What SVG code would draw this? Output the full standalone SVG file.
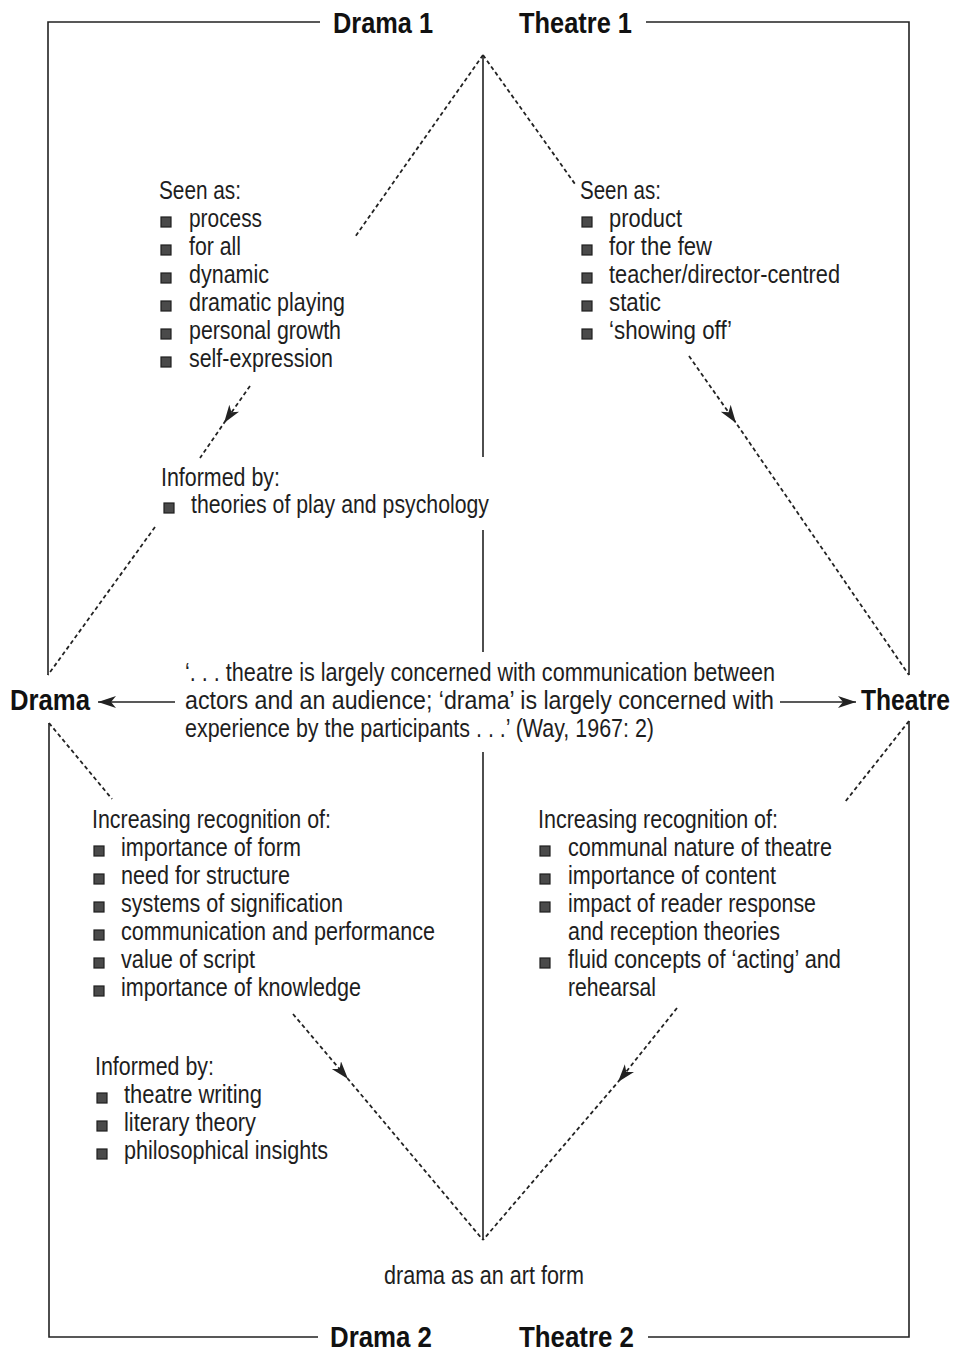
<svg xmlns="http://www.w3.org/2000/svg" width="956" height="1353" viewBox="0 0 956 1353">
<defs>
<marker id="ah" markerUnits="userSpaceOnUse" markerWidth="20" markerHeight="14" refX="18" refY="6" orient="auto" viewBox="0 0 20 14">
<path d="M0,0 L18,6 L0,12 L5,6 Z" fill="#222"/>
</marker>
<style>
.t{font-family:"Liberation Sans",Arial,sans-serif;font-size:25px;fill:#1e1e1e}
.b{font-family:"Liberation Sans",Arial,sans-serif;font-size:29px;font-weight:bold;fill:#111}
.sq{fill:#4a4a4a;stroke:#1e1e1e;stroke-width:1.2}
.fr{stroke:#222;stroke-width:1.6;fill:none}
.ds{stroke:#222;stroke-width:1.8;fill:none;stroke-dasharray:4 3}
.ar{stroke:#222;stroke-width:1.5;fill:none}
</style>
</defs>
<rect width="956" height="1353" fill="#fff"/>

<g id="connectors">
<path class="fr" d="M320,22 H48 V675"/>
<path class="fr" d="M646,22 H909 V675"/>
<path class="fr" d="M49,723 V1337 H318"/>
<path class="fr" d="M909,721 V1337 H648"/>
<path class="fr" d="M483,55 V457 M483,530 V652 M483,752 V1240"/>
<path class="ds" d="M483,55 L355,237"/>
<path class="ds" d="M483,55 L575,184"/>
<path class="ds" d="M250,386 L224,423 L200,458" marker-mid="url(#ah)"/>
<path class="ds" d="M155,527 L48,675"/>
<path class="ds" d="M689,356 L736,423 L909,675" marker-mid="url(#ah)"/>
<path class="ds" d="M49,723 L112,799"/>
<path class="ds" d="M909,721 L845,802"/>
<path class="ds" d="M293,1014 L348,1079 L483,1240" marker-mid="url(#ah)"/>
<path class="ds" d="M677,1008 L618,1082 L483,1240" marker-mid="url(#ah)"/>
<path class="ar" d="M175,702 L98,702" marker-end="url(#ah)"/>
<path class="ar" d="M780,702 L856,702" marker-end="url(#ah)"/>
</g>

<g id="drama1"><text class="b" x="333" y="33" textLength="100" lengthAdjust="spacingAndGlyphs">Drama 1</text></g>
<g id="theatre1"><text class="b" x="519" y="33" textLength="113" lengthAdjust="spacingAndGlyphs">Theatre 1</text></g>
<g id="drama"><text class="b" x="10" y="710" textLength="80" lengthAdjust="spacingAndGlyphs">Drama</text></g>
<g id="theatre"><text class="b" x="861" y="710" textLength="89" lengthAdjust="spacingAndGlyphs">Theatre</text></g>
<g id="drama2"><text class="b" x="330" y="1347" textLength="102" lengthAdjust="spacingAndGlyphs">Drama 2</text></g>
<g id="theatre2"><text class="b" x="519" y="1347" textLength="115" lengthAdjust="spacingAndGlyphs">Theatre 2</text></g>

<g id="drama1-seen">
<text class="t" x="159" y="199" textLength="82" lengthAdjust="spacingAndGlyphs">Seen as:</text>
<rect class="sq" x="161" y="217" width="10" height="10"/><text class="t" x="189" y="227" textLength="73" lengthAdjust="spacingAndGlyphs">process</text>
<rect class="sq" x="161" y="245" width="10" height="10"/><text class="t" x="189" y="255" textLength="52" lengthAdjust="spacingAndGlyphs">for all</text>
<rect class="sq" x="161" y="273" width="10" height="10"/><text class="t" x="189" y="283" textLength="80" lengthAdjust="spacingAndGlyphs">dynamic</text>
<rect class="sq" x="161" y="301" width="10" height="10"/><text class="t" x="189" y="311" textLength="156" lengthAdjust="spacingAndGlyphs">dramatic playing</text>
<rect class="sq" x="161" y="329" width="10" height="10"/><text class="t" x="189" y="339" textLength="152" lengthAdjust="spacingAndGlyphs">personal growth</text>
<rect class="sq" x="161" y="357" width="10" height="10"/><text class="t" x="189" y="367" textLength="144" lengthAdjust="spacingAndGlyphs">self-expression</text>
</g>

<g id="theatre1-seen">
<text class="t" x="580" y="199" textLength="81" lengthAdjust="spacingAndGlyphs">Seen as:</text>
<rect class="sq" x="582" y="217" width="10" height="10"/><text class="t" x="609" y="227" textLength="73" lengthAdjust="spacingAndGlyphs">product</text>
<rect class="sq" x="582" y="245" width="10" height="10"/><text class="t" x="609" y="255" textLength="103" lengthAdjust="spacingAndGlyphs">for the few</text>
<rect class="sq" x="582" y="273" width="10" height="10"/><text class="t" x="609" y="283" textLength="231" lengthAdjust="spacingAndGlyphs">teacher/director-centred</text>
<rect class="sq" x="582" y="301" width="10" height="10"/><text class="t" x="609" y="311" textLength="52" lengthAdjust="spacingAndGlyphs">static</text>
<rect class="sq" x="582" y="329" width="10" height="10"/><text class="t" x="609" y="339" textLength="123" lengthAdjust="spacingAndGlyphs">‘showing off’</text>
</g>

<g id="drama1-informed">
<text class="t" x="161" y="486" textLength="119" lengthAdjust="spacingAndGlyphs">Informed by:</text>
<rect class="sq" x="164" y="503" width="10" height="10"/><text class="t" x="191" y="513" textLength="298" lengthAdjust="spacingAndGlyphs">theories of play and psychology</text>
</g>

<g id="quote">
<text class="t" x="185" y="681" textLength="590" lengthAdjust="spacingAndGlyphs">‘. . . theatre is largely concerned with communication between</text>
<text class="t" x="185" y="709" textLength="589" lengthAdjust="spacingAndGlyphs">actors and an audience; ‘drama’ is largely concerned with</text>
<text class="t" x="185" y="737" textLength="469" lengthAdjust="spacingAndGlyphs">experience by the participants . . .’ (Way, 1967: 2)</text>
</g>

<g id="drama2-recognition">
<text class="t" x="92" y="828" textLength="239" lengthAdjust="spacingAndGlyphs">Increasing recognition of:</text>
<rect class="sq" x="94" y="846" width="10" height="10"/><text class="t" x="121" y="856" textLength="180" lengthAdjust="spacingAndGlyphs">importance of form</text>
<rect class="sq" x="94" y="874" width="10" height="10"/><text class="t" x="121" y="884" textLength="169" lengthAdjust="spacingAndGlyphs">need for structure</text>
<rect class="sq" x="94" y="902" width="10" height="10"/><text class="t" x="121" y="912" textLength="222" lengthAdjust="spacingAndGlyphs">systems of signification</text>
<rect class="sq" x="94" y="930" width="10" height="10"/><text class="t" x="121" y="940" textLength="314" lengthAdjust="spacingAndGlyphs">communication and performance</text>
<rect class="sq" x="94" y="958" width="10" height="10"/><text class="t" x="121" y="968" textLength="134" lengthAdjust="spacingAndGlyphs">value of script</text>
<rect class="sq" x="94" y="986" width="10" height="10"/><text class="t" x="121" y="996" textLength="240" lengthAdjust="spacingAndGlyphs">importance of knowledge</text>
</g>

<g id="drama2-informed">
<text class="t" x="95" y="1075" textLength="119" lengthAdjust="spacingAndGlyphs">Informed by:</text>
<rect class="sq" x="97" y="1093" width="10" height="10"/><text class="t" x="124" y="1103" textLength="138" lengthAdjust="spacingAndGlyphs">theatre writing</text>
<rect class="sq" x="97" y="1121" width="10" height="10"/><text class="t" x="124" y="1131" textLength="132" lengthAdjust="spacingAndGlyphs">literary theory</text>
<rect class="sq" x="97" y="1149" width="10" height="10"/><text class="t" x="124" y="1159" textLength="204" lengthAdjust="spacingAndGlyphs">philosophical insights</text>
</g>

<g id="theatre2-recognition">
<text class="t" x="538" y="828" textLength="240" lengthAdjust="spacingAndGlyphs">Increasing recognition of:</text>
<rect class="sq" x="540" y="846" width="10" height="10"/><text class="t" x="568" y="856" textLength="264" lengthAdjust="spacingAndGlyphs">communal nature of theatre</text>
<rect class="sq" x="540" y="874" width="10" height="10"/><text class="t" x="568" y="884" textLength="208" lengthAdjust="spacingAndGlyphs">importance of content</text>
<rect class="sq" x="540" y="902" width="10" height="10"/><text class="t" x="568" y="912" textLength="248" lengthAdjust="spacingAndGlyphs">impact of reader response</text>
<text class="t" x="568" y="940" textLength="212" lengthAdjust="spacingAndGlyphs">and reception theories</text>
<rect class="sq" x="540" y="958" width="10" height="10"/><text class="t" x="568" y="968" textLength="273" lengthAdjust="spacingAndGlyphs">fluid concepts of ‘acting’ and</text>
<text class="t" x="568" y="996" textLength="88" lengthAdjust="spacingAndGlyphs">rehearsal</text>
</g>

<g id="art-form"><text class="t" x="384" y="1284" textLength="200" lengthAdjust="spacingAndGlyphs">drama as an art form</text></g>
</svg>
